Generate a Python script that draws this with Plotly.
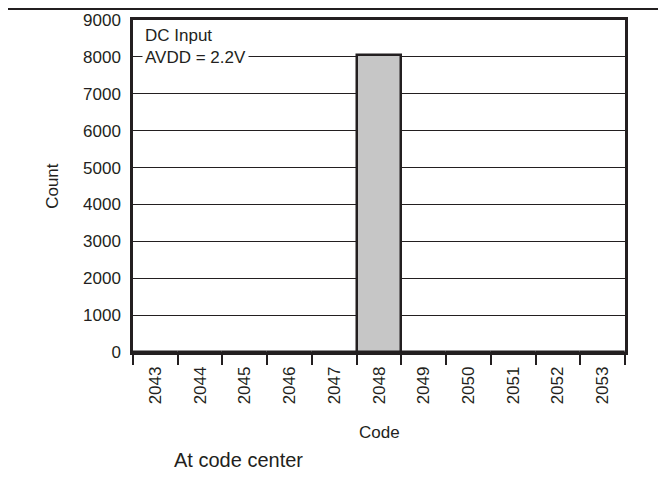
import plotly.graph_objects as go

codes = ['2043', '2044', '2045', '2046', '2047', '2048',
         '2049', '2050', '2051', '2052', '2053']
counts = [0, 0, 0, 0, 0, 8050, 0, 0, 0, 0, 0]
y_ticks = [0, 1000, 2000, 3000, 4000, 5000, 6000, 7000, 8000, 9000]

ink = '#231f20'
font_family = 'Liberation Sans, Arial, sans-serif'

fig = go.Figure(go.Bar(
    x=codes,
    y=counts,
    marker=dict(color='#c6c6c6', line=dict(color=ink, width=2.5)),
    hoverinfo='x+y'
))

# the page adds an 8px body margin, so the figure is a bit smaller than the window
fig.update_layout(
    width=650,
    height=475,
    paper_bgcolor='white',
    plot_bgcolor='white',
    font=dict(family=font_family, color=ink, size=17),
    margin=dict(l=125, r=33, t=12, b=131),
    bargap=0,
    showlegend=False
)

fig.update_xaxes(
    type='category',
    automargin=False,
    tickson='boundaries',
    ticks='outside',
    ticklen=10,
    tickwidth=1.5,
    tickcolor=ink,
    tickangle=-90,
    tickfont=dict(size=17),
    ticklabelstandoff=5,
    showline=True,
    linecolor=ink,
    linewidth=2.5,
    mirror=True,
    showgrid=False
)

fig.update_yaxes(
    range=[0, 9000],
    automargin=False,
    tickvals=y_ticks,
    ticks='',
    tickfont=dict(size=17),
    ticklabelstandoff=6,
    showline=True,
    linecolor=ink,
    linewidth=2.5,
    mirror=True,
    showgrid=True,
    gridcolor=ink,
    gridwidth=1,
    zeroline=False
)

fig.add_annotation(
    xref='paper', yref='paper',
    x=0.018, y=0.99,
    xanchor='left', yanchor='top',
    text='DC Input<br>AVDD = 2.2V',
    align='left',
    showarrow=False,
    bgcolor='white',
    font=dict(size=17, color=ink),
    borderpad=2
)

fig.add_annotation(
    xref='paper', yref='paper',
    x=0.5, y=-0.241,
    xanchor='center', yanchor='middle',
    text='Code',
    showarrow=False,
    font=dict(size=17, color=ink)
)

fig.add_annotation(
    xref='paper', yref='paper',
    x=-0.165, y=0.5,
    xanchor='center', yanchor='middle',
    text='Count',
    textangle=-90,
    showarrow=False,
    font=dict(size=17, color=ink)
)

fig.add_annotation(
    xref='paper', yref='paper',
    x=0.08, y=-0.325,
    xanchor='left', yanchor='middle',
    text='At code center',
    showarrow=False,
    font=dict(size=20, color=ink)
)

fig.add_shape(
    type='line', xref='paper', yref='paper',
    x0=-0.3, x1=1.1, y0=1.033, y1=1.033,
    line=dict(color=ink, width=2)
)

fig.write_html('out.html')
